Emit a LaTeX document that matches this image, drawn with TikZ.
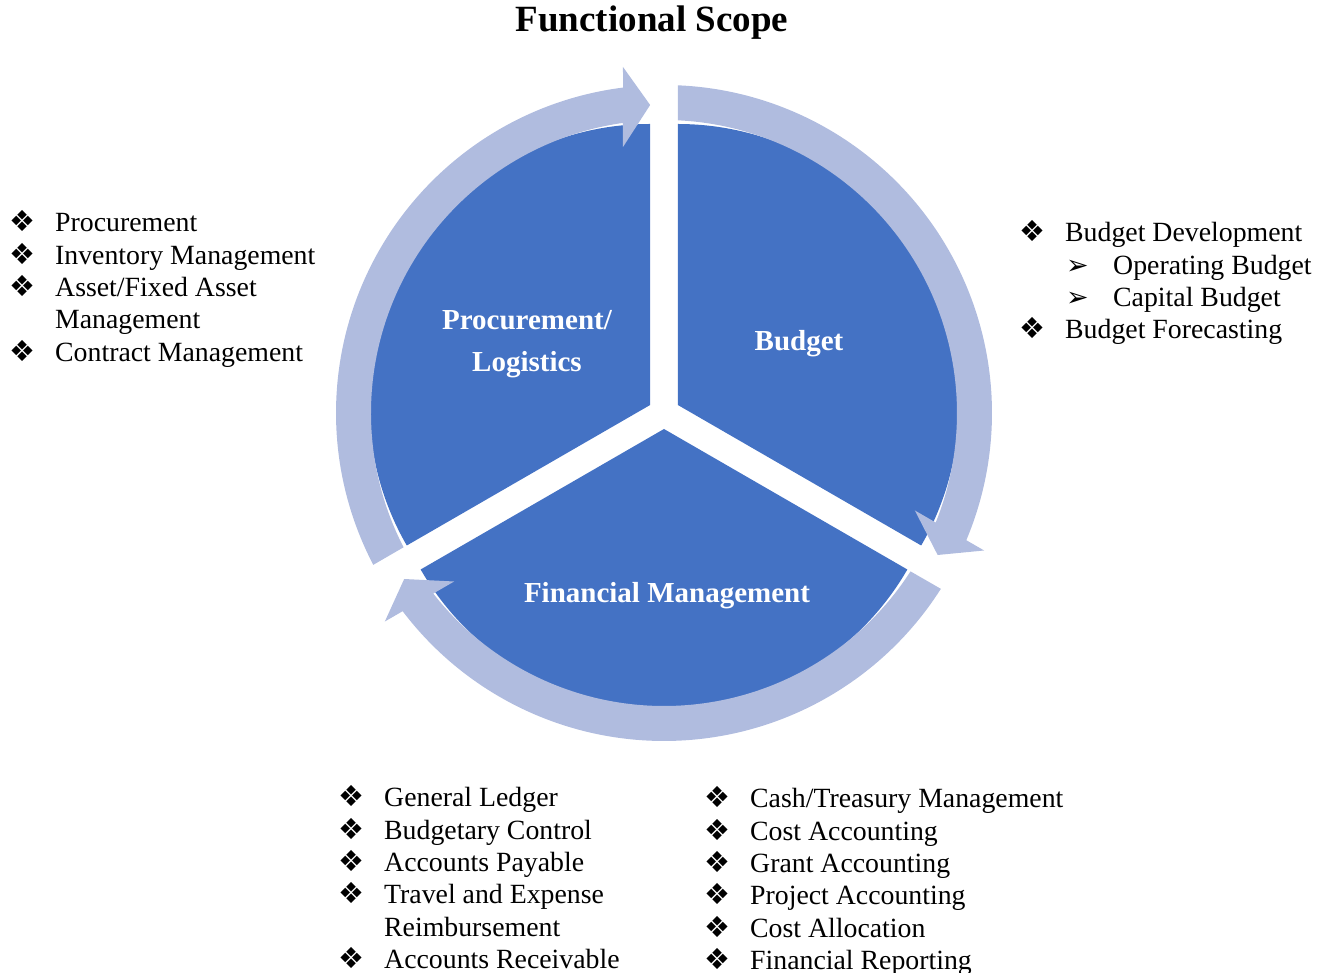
\documentclass[tikz,border=0pt]{standalone}
\usepackage{fontspec}
\setmainfont{Liberation Serif}
\newfontfamily\dingfont{DejaVu Sans}
\usepackage{array}
\definecolor{pieblue}{RGB}{68,114,196}
\definecolor{ringblue}{RGB}{176,188,223}
\newcommand{\diabullet}{{\dingfont\fontsize{29}{29}\selectfont ❖}}
\newcommand{\arrbullet}{{\dingfont\fontsize{27}{27}\selectfont ➢}}

\begin{document}
\begin{tikzpicture}[x=1pt, y=1pt,
    piece/.style={fill=pieblue},
    cyclearrow/.style={fill=ringblue},
    seclabel/.style={text=white, align=center, font=\bfseries\fontsize{29}{42}\selectfont},
    itemlist/.style={anchor=base west, inner sep=0pt, font=\fontsize{27.8}{32.3}\selectfont}]
    \useasboundingbox (-664,-560) rectangle (662,413);

    % pie pieces, pushed out a little from the centre
    \fill[piece] (150:16) -- ++(90:281) arc[start angle=90, end angle=210, radius=281] -- cycle;
    \fill[piece] (30:16) -- ++(-30:281) arc[start angle=-30, end angle=90, radius=281] -- cycle;
    \fill[piece] (270:16) -- ++(210:281) arc[start angle=210, end angle=330, radius=281] -- cycle;

    % ring arrows
    \fill[cyclearrow] (207.58:328) arc[start angle=207.58, end angle=97.18, radius=328] -- (-41,346) -- (-13.86,308) -- (-41,266) -- (-41,290.1) arc[start angle=98.04, end angle=207.28, radius=293] -- cycle;
    \fill[cyclearrow, rotate=-120] (207.58:328) arc[start angle=207.58, end angle=97.18, radius=328] -- (-41,346) -- (-13.86,308) -- (-41,266) -- (-41,290.1) arc[start angle=98.04, end angle=207.28, radius=293] -- cycle;
    \fill[cyclearrow, rotate=-240] (207.58:328) arc[start angle=207.58, end angle=97.18, radius=328] -- (-41,346) -- (-13.86,308) -- (-41,266) -- (-41,290.1) arc[start angle=98.04, end angle=207.28, radius=293] -- cycle;

    \node (title) [anchor=base, font=\bfseries\fontsize{37}{44}\selectfont] at (-12,381) {Functional Scope};

    \node (proc) [seclabel] at (-137,69) {Procurement/\\Logistics};
    \node (budget) [seclabel, anchor=base] at (135,62) {Budget};
    \node (finmgmt) [seclabel, anchor=base] at (3,-190) {Financial Management};

    \node (proclist) [itemlist] at (-655,181) {\begin{tabular}[t]{@{}p{46pt}@{}l@{}}
        \diabullet & Procurement\\
        \diabullet & Inventory Management\\
        \diabullet & Asset/Fixed Asset\\
                   & Management\\
        \diabullet & Contract Management
    \end{tabular}};

    \node (budgetlist) [itemlist] at (355,171) {\begin{tabular}[t]{@{}p{46pt}@{}l@{}}
        \diabullet & Budget Development\\
                   & \makebox[48pt][l]{\hspace{1pt}\arrbullet}Operating Budget\\
                   & \makebox[48pt][l]{\hspace{1pt}\arrbullet}Capital Budget\\
        \diabullet & Budget Forecasting
    \end{tabular}};

    \node (ledgerlist) [itemlist] at (-326,-394) {\begin{tabular}[t]{@{}p{46pt}@{}l@{}}
        \diabullet & General Ledger\\
        \diabullet & Budgetary Control\\
        \diabullet & Accounts Payable\\
        \diabullet & Travel and Expense\\
                   & Reimbursement\\
        \diabullet & Accounts Receivable
    \end{tabular}};

    \node (cashlist) [itemlist] at (40,-395) {\begin{tabular}[t]{@{}p{46pt}@{}l@{}}
        \diabullet & Cash/Treasury Management\\
        \diabullet & Cost Accounting\\
        \diabullet & Grant Accounting\\
        \diabullet & Project Accounting\\
        \diabullet & Cost Allocation\\
        \diabullet & Financial Reporting
    \end{tabular}};
\end{tikzpicture}
\end{document}
